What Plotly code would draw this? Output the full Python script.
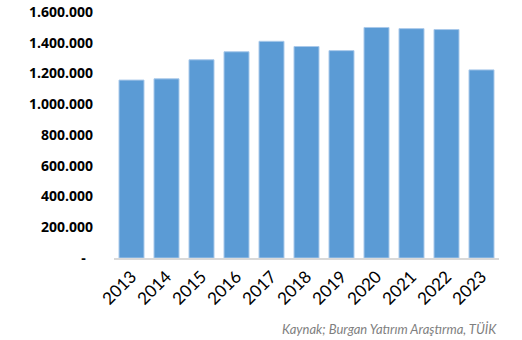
import plotly.graph_objects as go

years = ["2013", "2014", "2015", "2016", "2017", "2018", "2019", "2020", "2021", "2022", "2023"]
sales = [1157190, 1165381, 1289320, 1341453, 1409314, 1375398, 1348729, 1499316, 1491856, 1485786, 1223498]
ytick_vals = [0, 200000, 400000, 600000, 800000, 1000000, 1200000, 1400000, 1600000]
ytick_text = ["-\u00a0\u00a0", "200.000", "400.000", "600.000", "800.000", "1.000.000", "1.200.000", "1.400.000", "1.600.000"]
source = "Kaynak; Burgan Yatırım Araştırma, TÜİK"

fig = go.Figure(go.Bar(
    x=years, y=sales,
    marker=dict(color="#5B9BD5", line=dict(color="#A9C9EA", width=1)),
))

fig.update_layout(
    width=522, height=340,
    margin=dict(l=114, r=23, t=12, b=82),
    paper_bgcolor="white", plot_bgcolor="white",
    bargap=0.286,
    showlegend=False,
    font=dict(family="Lato", color="#000000"),
)
fig.update_xaxes(
    type="category",
    tickangle=-45,
    tickfont=dict(family="Lato", size=17, color="#000000"),
    showline=True, linecolor="#D9D9D9", linewidth=2,
    showgrid=False, ticks="",
    automargin=False,
)
fig.update_yaxes(
    range=[0, 1600000],
    tickvals=ytick_vals, ticktext=ytick_text,
    tickfont=dict(family="Open Sans", size=14, color="#000000", weight="bold"),
    showgrid=False, showline=False, zeroline=False, ticks="",
    ticklabelstandoff=20,
    automargin=False,
)
fig.add_annotation(
    text=source, xref="paper", yref="paper",
    x=1.0, y=0, yshift=-71, xanchor="right", yanchor="middle",
    showarrow=False,
    font=dict(family="Lato", size=13, color="#7F7F7F", style="italic"),
)
fig.write_html("out.html")
